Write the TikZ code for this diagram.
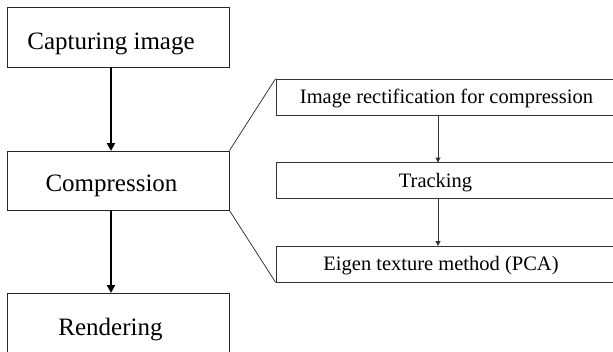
\documentclass[tikz,border=0pt]{standalone}
\usepackage{fontspec}
\setmainfont{Liberation Serif}
\usetikzlibrary{arrows.meta}
\begin{document}
\begin{tikzpicture}[x=1pt,y=-1pt,
  stagebox/.style={draw=black!85,line width=0.9pt,rectangle,inner sep=0pt,minimum width=222pt,minimum height=60pt},
  substep/.style={draw=black!80,line width=0.8pt,rectangle,inner sep=0pt,minimum width=349pt,minimum height=36pt},
  bigtext/.style={anchor=base,inner sep=0pt,font=\fontsize{25}{30}\selectfont},
  smalltext/.style={anchor=base,inner sep=0pt,font=\fontsize{20.5}{24}\selectfont},
  mainflow/.style={line width=2.2pt,-{Triangle[length=8pt,width=8pt]}},
  subflow/.style={draw=black!80,line width=1pt,-{Triangle[length=5pt,width=5pt]}},
  zoomline/.style={draw=black!85,line width=0.7pt}]
\useasboundingbox (0,0) rectangle (613,351);
\clip (0,0) rectangle (613,351);
\fill[white] (0,0) rectangle (613,351);

% main pipeline
\node[stagebox] (cap) at (118,37) {};
\node[stagebox,minimum height=59pt] (comp) at (118,180.5) {};
\node[stagebox,minimum height=70pt] (rend) at (118,328) {};
\node[bigtext] (capt) at (111,49.5) {Capturing image};
\node[bigtext] (compt) at (111.5,191.5) {Compression};
\node[bigtext] (rendt) at (110.5,335) {Rendering};

\draw[mainflow] (111,67) -- (111,151);
\draw[mainflow] (111,210) -- (111,293);

% compression sub-steps
\node[substep] (r1) at (450.5,97) {};
\node[substep] (r2) at (450.5,180.5) {};
\node[substep] (r3) at (450.5,264) {};
\node[smalltext] (r1t) at (446.5,103.5) {Image rectification for compression};
\node[smalltext] (r2t) at (435.5,187.5) {Tracking};
\node[smalltext] (r3t) at (441,270.5) {Eigen texture method (PCA)};

\draw[subflow] (438,115) -- (438,162.5);
\draw[subflow] (438,198.5) -- (438,246);

% zoom-out lines
\draw[zoomline] (comp.north east) -- (r1.north west);
\draw[zoomline] (comp.south east) -- (r3.south west);
\end{tikzpicture}
\end{document}
